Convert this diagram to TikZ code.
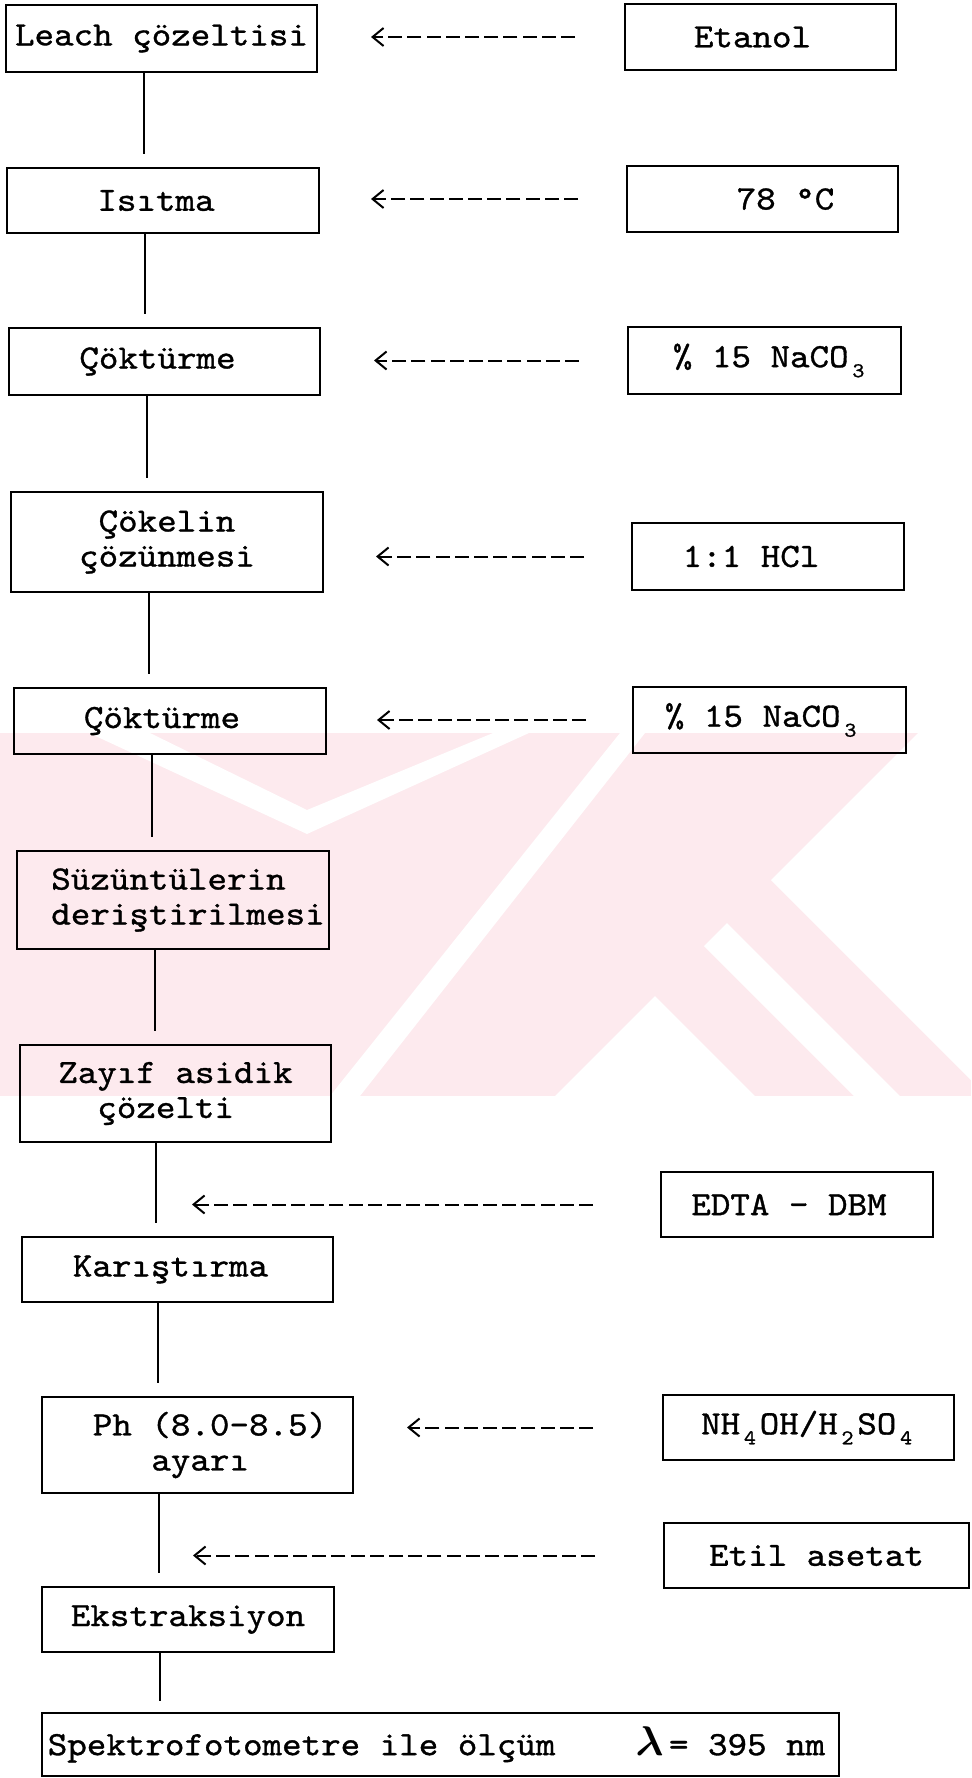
\documentclass[tikz,border=0pt]{standalone}
\usepackage{fontspec}
\usepackage{bm}
\usetikzlibrary{arrows.meta}
\newfontfamily\tw{lmmono10-regular.otf}[FakeStretch=1.094,FakeBold=1.0]
\newcommand{\mysub}[1]{\raisebox{-5pt}{\makebox[9.75pt]{\fontsize{10.5}{10.5}\selectfont #1}}}
\definecolor{wm}{RGB}{253,234,238}
\begin{document}
\begin{tikzpicture}[x=0.5pt,y=-0.5pt,
  box/.style={draw, line width=1pt, inner sep=0pt, align=center, font=\tw\fontsize{17}{17.5}\selectfont},
  lbox/.style={box, align=left},
  conn/.style={line width=0.8pt, shorten >=6.5pt},
  reag/.style={line width=1pt, dash pattern=on 7pt off 2.6pt, -{Straight Barb[length=5.5pt,width=9pt,line width=1pt]}},
  wmark/.style={fill=wm, draw=none},
  wgap/.style={fill=white, draw=none}
]
\useasboundingbox (0,0) rectangle (971,1778);
% watermark
\fill[wmark] (0,733) rectangle (971,1096);
\begin{scope}
\clip (0,733) rectangle (971,1096);
\fill[wgap] (89,733) -- (150,733) -- (307,810) -- (493,733) -- (529,733) -- (307,834) -- cycle;
\fill[wgap] (620,733) -- (645,733) -- (360,1096) -- (330,1096) -- cycle;
\fill[wgap] (918,733) -- (971,733) -- (971,1080) -- (771,880) -- cycle;
\fill[wgap] (727,923) -- (900,1096) -- (854,1096) -- (704,946) -- cycle;
\fill[wgap] (655,996) -- (755,1096) -- (555,1096) -- cycle;
\end{scope}

% left column
\node[box, minimum width=155.5pt, minimum height=33.5pt] (leach) at (161.5,38.5) {Leach çözeltisi};
\node[box, minimum width=156pt, minimum height=32.5pt] (isitma) at (163,200.5) {Isıtma\hspace*{7pt}};
\node[box, minimum width=155.5pt, minimum height=33.5pt] (cokt1) at (164.5,361.5) {Çöktürme\hspace*{7pt}};
\node[box, minimum width=156pt, minimum height=50pt] (cokelin) at (167,542) {Çökelin\\çözünmesi};
\node[box, minimum width=156pt, minimum height=33pt] (cokt2) at (170,721) {Çöktürme\hspace*{8pt}};
\node[lbox, minimum width=156pt, minimum height=49pt] (suz) at (173,900) {\hspace*{15pt}Süzüntülerin\\\hspace*{15pt}deriştirilmesi};
\node[lbox, minimum width=155.5pt, minimum height=48.5pt] (zayif) at (175.5,1093.5) {Zayıf asidik\\\hspace*{19.5pt}çözelti};
\node[box, minimum width=155.5pt, minimum height=32.5pt] (kar) at (177.5,1269.5) {Karıştırma\hspace*{7pt}};
\node[lbox, minimum width=155.5pt, minimum height=48pt] (ph) at (197.5,1445) {\hspace*{12.5pt}Ph (8.0-8.5)\\\hspace*{12.5pt}\hspace*{29.25pt}ayarı};
\node[box, minimum width=146pt, minimum height=32.5pt] (ekstr) at (188,1619.5) {Ekstraksiyon};
\node[box, minimum width=398.5pt, minimum height=31.5pt] (spek) at (440.5,1744.5) {Spektrofotometre ile ölçüm\hspace{40pt}{\fontsize{20}{20}\selectfont$\bm{\lambda}$}\,= 395 nm\hspace*{4pt}};

% right column
\node[box, minimum width=135.5pt, minimum height=33pt] (etanol) at (760.5,37) {Etanol\hspace*{8pt}};
\node[box, minimum width=135.5pt, minimum height=33pt] (t78) at (762.5,199) {\hspace*{23pt}78 °C};
\node[box, minimum width=136.5pt, minimum height=33.5pt] (naco1) at (764.5,360.5) {\hspace*{6pt}\% 15 NaCO\mysub{3}};
\node[box, minimum width=136pt, minimum height=33.5pt] (hcl) at (768,556.5) {1:1 HCl\hspace*{17pt}};
\node[box, minimum width=136.5pt, minimum height=33pt] (naco2) at (769.5,720) {\% 15 NaCO\mysub{3}\hspace*{7pt}};
\node[box, minimum width=136pt, minimum height=32.5pt] (edta) at (797,1204.5) {EDTA - DBM\hspace*{8pt}};
\node[box, minimum width=145.5pt, minimum height=32.5pt] (nh4) at (808.5,1427.5) {NH\mysub{4}OH/H\mysub{2}SO\mysub{4}};
\node[box, minimum width=152.5pt, minimum height=32.5pt] (etil) at (816.5,1555.5) {Etil asetat};

% x positions of the vertical connectors
\coordinate (l1) at (144,0);
\coordinate (l2) at (145,0);
\coordinate (l3) at (147,0);
\coordinate (l4) at (149,0);
\coordinate (l5) at (152,0);
\coordinate (l6) at (155,0);
\coordinate (l7) at (156,0);
\coordinate (l8) at (158,0);
\coordinate (l9) at (159,0);
\coordinate (l10) at (160,0);

\draw[conn] (leach.south -| l1) -- (isitma.north -| l1);
\draw[conn] (isitma.south -| l2) -- (cokt1.north -| l2);
\draw[conn] (cokt1.south -| l3) -- (cokelin.north -| l3);
\draw[conn] (cokelin.south -| l4) -- (cokt2.north -| l4);
\draw[conn] (cokt2.south -| l5) -- (suz.north -| l5);
\draw[conn] (suz.south -| l6) -- (zayif.north -| l6);
\draw[conn] (zayif.south -| l7) -- (kar.north -| l7);
\draw[conn] (kar.south -| l8) -- (ph.north -| l8);
\draw[conn] (ph.south -| l9) -- (ekstr.north -| l9);
\draw[conn, shorten >=5.5pt] (ekstr.south -| l10) -- (spek.north -| l10);

% reagent arrows
\draw[reag, shorten <=24.5pt, shorten >=26.5pt] (etanol.west) -- (etanol.west -| leach.east);
\draw[reag, shorten <=24pt, shorten >=25.5pt] (t78.west) -- (t78.west -| isitma.east);
\draw[reag, shorten <=24pt, shorten >=26.5pt] (naco1.west) -- (naco1.west -| cokt1.east);
\draw[reag, shorten <=23.5pt, shorten >=26pt] (hcl.west) -- (hcl.west -| cokelin.east);
\draw[reag, shorten <=23pt, shorten >=25pt] (naco2.west) -- (naco2.west -| cokt2.east);
\draw[reag, shorten <=33.5pt, shorten >=18pt] (edta.west) -- (edta.west -| l7);
\draw[reag, shorten <=34.5pt, shorten >=26.5pt] (nh4.west) -- (nh4.west -| ph.east);
\draw[reag, shorten <=34pt, shorten >=17pt] (etil.west) -- (etil.west -| l9);
\end{tikzpicture}
\end{document}
